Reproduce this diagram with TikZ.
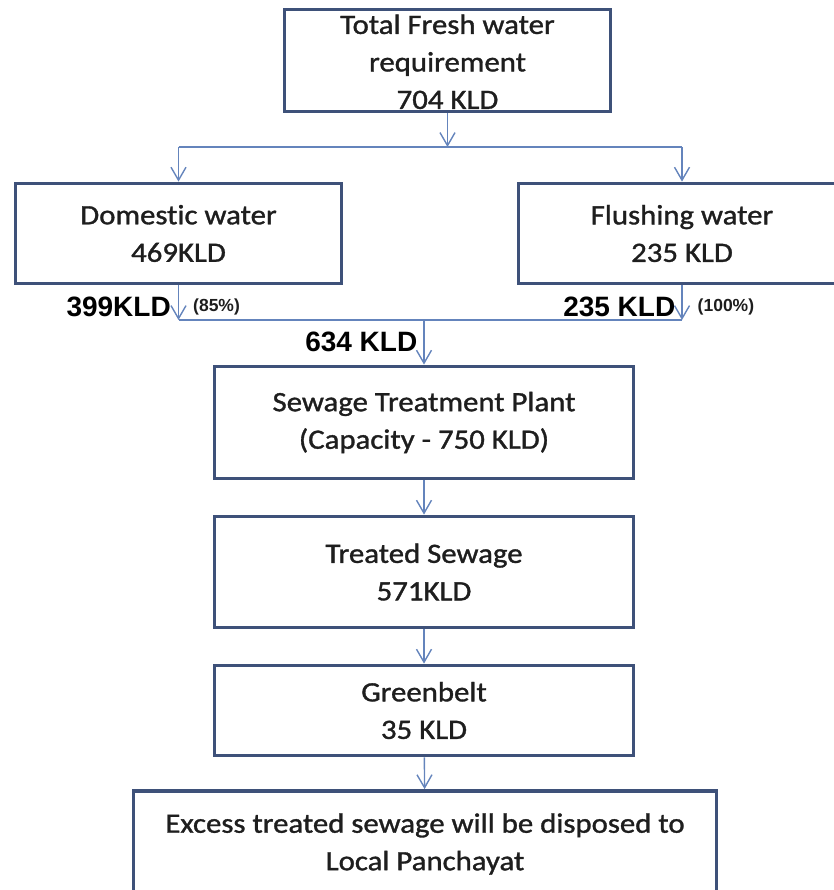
\documentclass[tikz,border=0pt]{standalone}
\usepackage{fontspec}
\setmainfont{Carlito}[FakeStretch=1.1,FakeBold=1.2,Ligatures=NoCommon]
\newfontfamily\kldfont{Liberation Sans}
\usepackage{tikz}
\usetikzlibrary{arrows.meta}

\definecolor{boxblue}{HTML}{3E5179}
\definecolor{flowblue}{HTML}{6484BC}
\definecolor{inkgray}{HTML}{1E1E1E}

\tikzset{
  box/.style={draw=boxblue, line width=3.8pt, rectangle, align=center, text=inkgray,
    inner sep=0pt, font=\fontsize{28}{37.5}\selectfont},
  flow/.style={draw=flowblue, line width=1.4pt, -{Straight Barb[length=13pt,width=15pt,line width=1.4pt]}},
  busline/.style={draw=flowblue, line width=1.4pt},
  kld/.style={inner sep=1pt, text=black, font=\kldfont\bfseries\fontsize{28}{30}\selectfont},
  share/.style={inner sep=1pt, text=inkgray, font=\kldfont\bfseries\fontsize{17.5}{19}\selectfont}
}

\begin{document}
\begin{tikzpicture}[x=1pt, y=-1pt]
        \useasboundingbox (0,0) rectangle (833,890);
        % Define the nodes
        \node[box, minimum width=326, minimum height=102] (fresh)    at (447.5,60.5) {\rule{0pt}{22pt}Total Fresh water\\requirement\\704 KLD};
        \node[box, minimum width=326, minimum height=100] (domestic) at (178.5,233.5) {Domestic water\\469KLD};
        \node[box, minimum width=327, minimum height=100] (flushing) at (682,233.5) {Flushing water\\235 KLD};
        \node[box, minimum width=419, minimum height=112] (stp)      at (424,422.5) {Sewage Treatment Plant\\(Capacity - 750 KLD)};
        \node[box, minimum width=419, minimum height=111] (treated)  at (424,572) {Treated Sewage\\571KLD};
        \node[box, minimum width=419, minimum height=90]  (green)    at (424,710.5) {Greenbelt\\35 KLD};
        \node[box, minimum width=583, minimum height=106] (excess)   at (425,844) {Excess treated sewage will be disposed to\\Local Panchayat};
        % Junction points
        \coordinate (splitL) at (178.5,147);
        \coordinate (splitR) at (682,147);
        \coordinate (mergeL) at (178.5,320);
        \coordinate (mergeR) at (682,320);
        \coordinate (mergeM) at (424,320);
        % Connect the nodes
        \draw[flow] (fresh.south) -- (fresh.south |- splitL);
        \draw[busline] (splitL) -- (splitR);
        \draw[flow] (splitL) -- (domestic.north);
        \draw[flow] (splitR) -- (flushing.north);
        \draw[flow] (domestic.south) -- (mergeL) node[kld, anchor=east, pos=0.62, xshift=-6pt] (domout) {399KLD}
                                               node[share, anchor=west, pos=0.62, xshift=13pt] (domshare) {(85\%)};
        \draw[flow] (flushing.south) -- (mergeR) node[kld, anchor=east, pos=0.62, xshift=-5pt] (flushout) {235 KLD}
                                               node[share, anchor=west, pos=0.62, xshift=14pt] (flushshare) {(100\%)};
        \draw[busline] (mergeL) -- (mergeR);
        \draw[flow] (mergeM) -- (stp.north) node[kld, anchor=east, pos=0.5, xshift=-5pt] (stpin) {634 KLD};
        \draw[flow] (stp) -- (treated);
        \draw[flow] (treated) -- (green);
        \draw[flow] (green) -- (excess);
    \end{tikzpicture}
\end{document}
